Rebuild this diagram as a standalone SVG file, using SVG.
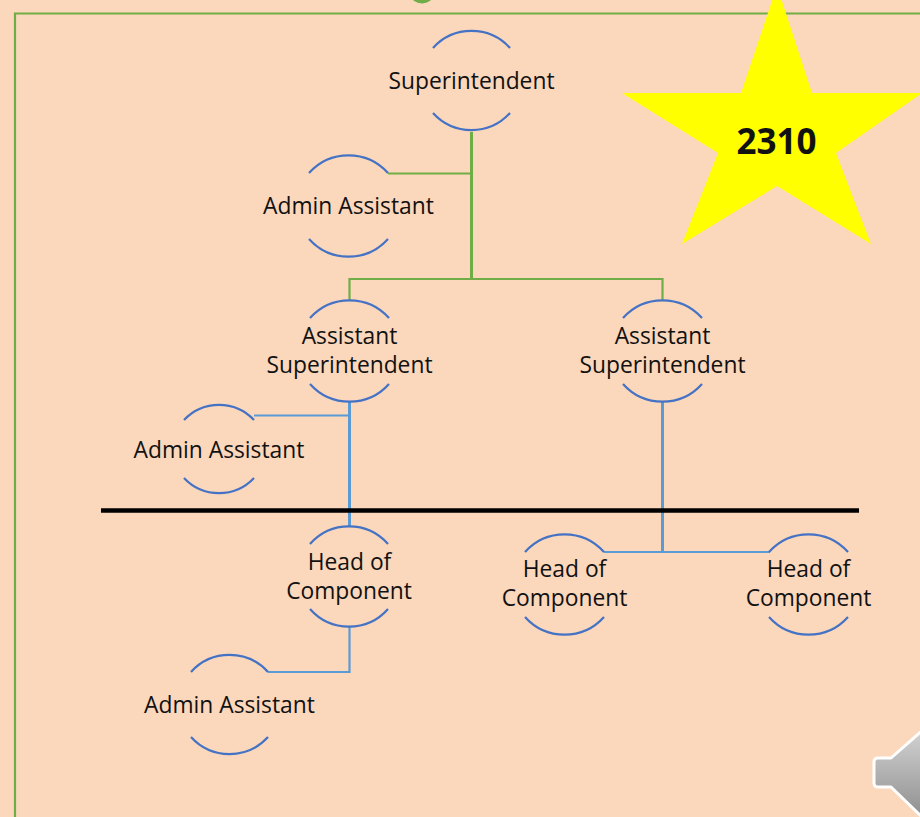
<svg xmlns="http://www.w3.org/2000/svg" width="920" height="817" viewBox="0 0 920 817">
<style>
text{font-family:"Open Sans","Noto Sans","Liberation Sans",sans-serif;font-size:22.800px;fill:#111;text-anchor:middle}
.arc{fill:none;stroke:#4472c4;stroke-width:2.200}
.g{fill:none;stroke:#70ad47;stroke-width:2.200}
.gt{fill:none;stroke:#70ad47;stroke-width:3}
.b{fill:none;stroke:#5b9bd5;stroke-width:2.200}
.bt{fill:none;stroke:#5b9bd5;stroke-width:3}
</style>
<defs><linearGradient id="sp" x1="0" y1="0" x2="0" y2="1"><stop offset="0" stop-color="#d4d4d4"/><stop offset="1" stop-color="#8f8f8f"/></linearGradient></defs>
<rect width="920" height="817" fill="#fbd7bb"/>
<path d="M15 817V13.500H920" fill="none" stroke="#70ad47" stroke-width="2.200"/>
<ellipse cx="422" cy="-5" rx="11" ry="8.500" fill="#70ad47"/>
<g id="connectors">
<path class="gt" d="M471.500 132V279"/>
<path class="g" d="M388 173.500H471M349.500 300V279H662.500V300"/>
<path class="bt" d="M349.500 402V526M662.500 402V552"/>
<path class="b" d="M254 415.500H349M604 552H770M349.500 627V672H268"/>
</g>
<path id="divider" d="M101 510.500H859" stroke="#000" stroke-width="4.500" fill="none"/>
<g id="star"><polygon points="777,-14 812,93 922,93 836,153 871,244 777,186 682,244 718,153 622,93 741,93" fill="#ffff00"/>
<text x="776.500" y="154" style="font-size:35px;font-weight:700;font-family:'Open Sans',sans-serif">2310</text></g>
<g id="n-superintendent"><path class="arc" d="M433 48A52 52 0 0 1 510 48M433 113A52 52 0 0 0 510 113"/><text x="471.500" y="88.500">Superintendent</text></g>
<g id="n-admin1"><path class="arc" d="M309 173A53 53 0 0 1 388 173M309 239A53 53 0 0 0 388 239"/><text x="348.500" y="213.500">Admin Assistant</text></g>
<g id="n-asst1"><path class="arc" d="M310 318A53 53 0 0 1 389 318M310 384A53 53 0 0 0 389 384"/><text x="349.500" y="343.500">Assistant</text><text x="349.500" y="372.500">Superintendent</text></g>
<g id="n-asst2"><path class="arc" d="M623 318A53 53 0 0 1 702 318M623 384A53 53 0 0 0 702 384"/><text x="662.500" y="343.500">Assistant</text><text x="662.500" y="372.500">Superintendent</text></g>
<g id="n-admin2"><path class="arc" d="M184 420A48 48 0 0 1 254 420M184 478A48 48 0 0 0 254 478"/><text x="219" y="457.500">Admin Assistant</text></g>
<g id="n-head1"><path class="arc" d="M310 544A52 52 0 0 1 388 544M310 609A52 52 0 0 0 388 609"/><text x="349.500" y="569.500">Head of</text><text x="349" y="598.500">Component</text></g>
<g id="n-head2"><path class="arc" d="M525 552A53 53 0 0 1 604 552M525 617A53 53 0 0 0 604 617"/><text x="564.500" y="577">Head of</text><text x="564.500" y="606">Component</text></g>
<g id="n-head3"><path class="arc" d="M769 552A53 53 0 0 1 848 552M769 617A53 53 0 0 0 848 617"/><text x="808.500" y="577">Head of</text><text x="808.500" y="606">Component</text></g>
<g id="n-admin3"><path class="arc" d="M191 672A52 52 0 0 1 268 672M191 737A52 52 0 0 0 268 737"/><text x="229.500" y="712.500">Admin Assistant</text></g>
<g id="speaker"><path d="M878 758H891L925 728V817H922L891 787H878Q874 787 874 783V762Q874 758 878 758Z" fill="url(#sp)" stroke="#fff" stroke-width="3" stroke-linejoin="round"/></g>
</svg>
